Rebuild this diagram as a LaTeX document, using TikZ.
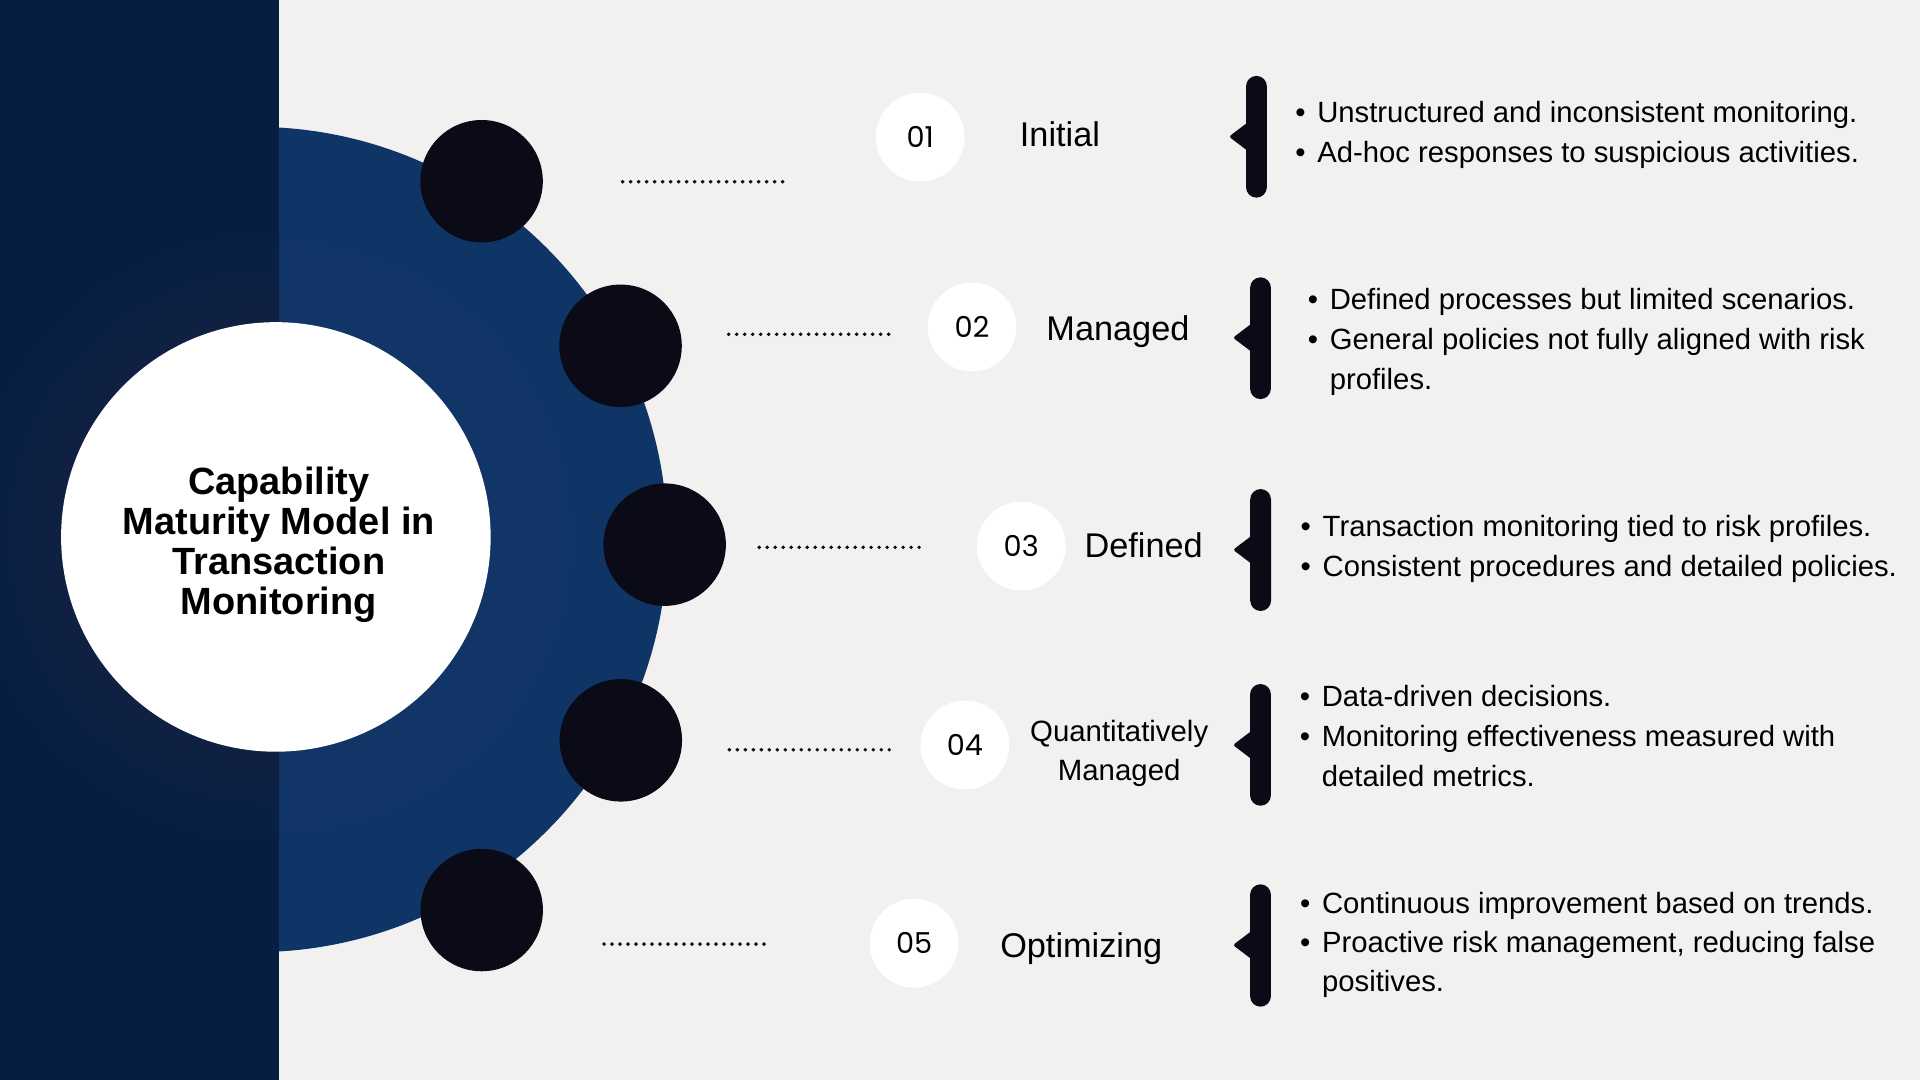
\documentclass[tikz,border=0pt]{standalone}
\usepackage{fontspec}
\setmainfont{Liberation Sans}
\newfontfamily\numfont{Poppins}
\definecolor{bgc}{HTML}{F2F1EF}
\definecolor{stripc}{HTML}{061E42}
\definecolor{bluec}{HTML}{0E3566}
\definecolor{darkc}{HTML}{0A0B17}
\definecolor{stripglow}{HTML}{3A4A66}
\definecolor{blueglow}{HTML}{3A5A8A}
\newcommand\mybracket[4]{%
  \fill[darkc, rounded corners=8.5pt] (#1-8.5,#2) rectangle (#1+8.5,#3);
  \fill[darkc, rounded corners=2pt] (#1-6,#4-12.5) -- (#1-22.5,#4) -- (#1-6,#4+12.5) -- cycle;}
\begin{document}
\begin{tikzpicture}[x=1pt,y=-1pt,
  darkdot/.style={circle, fill=darkc, minimum size=100pt, inner sep=0pt},
  numcirc/.style={circle, fill=white, minimum size=72.5pt, inner sep=0pt, text=black,
    font=\numfont\fontsize{23.5}{23.5}\selectfont},
  stage/.style={anchor=base, inner sep=0pt, text=black, font=\fontsize{28}{28}\selectfont},
  stagesm/.style={anchor=base, inner sep=0pt, text=black, font=\fontsize{24}{24}\selectfont},
  item/.style={anchor=base west, inner sep=0pt, text=black, font=\fontsize{23.9}{23.9}\selectfont},
  dotline/.style={darkc, line width=3.2pt, line cap=round, dash pattern=on 0pt off 6.53pt},
  titlenode/.style={align=center, inner sep=0pt, text=black, font=\bfseries\fontsize{31}{32.7}\selectfont}]
\newcommand\bul{\makebox[18pt][l]{\textbullet}}
\useasboundingbox (0,0) rectangle (1568,882);
\fill[bgc] (0,0) rectangle (1568,882);
% big blue disc with a soft glow round the centre
\fill[bluec] (208,440.6) circle (337);
\begin{scope}
  \clip (208,440.6) circle (337);
  \foreach \r in {184,192,...,248} \fill[blueglow, opacity=0.025] (225.3,438.5) circle (\r);
\end{scope}
% left strip with the same glow
\fill[stripc] (0,0) rectangle (227.5,882);
\begin{scope}
  \clip (0,0) rectangle (227.5,882);
  \foreach \r in {184,192,...,248} \fill[stripglow, opacity=0.025] (225.3,438.5) circle (\r);
\end{scope}
% central white disc
\fill[white] (225.3,438.5) circle (175.4);
\node[titlenode] (title) at (227.7,445.2) {Capability\\Maturity Model in\\Transaction\\Monitoring};
% dark dots on the rim
\node[darkdot] (d1) at (393.3,148) {};
\node[darkdot] (d2) at (506.8,282.4) {};
\node[darkdot] (d3) at (542.8,444.8) {};
\node[darkdot] (d4) at (507,604.6) {};
\node[darkdot] (d5) at (393.4,743.2) {};
% dotted leaders
\coordinate (p1a) at (508.5,148.4); \coordinate (p1b) at (639.2,148.4);
\coordinate (p2a) at (595.1,273.0); \coordinate (p2b) at (725.8,273.0);
\coordinate (p3a) at (620.0,447.0); \coordinate (p3b) at (750.7,447.0);
\coordinate (p4a) at (595.6,612.3); \coordinate (p4b) at (726.3,612.3);
\coordinate (p5a) at (493.3,771.0); \coordinate (p5b) at (624.0,771.0);
\draw[dotline] (p1a) -- (p1b);
\draw[dotline] (p2a) -- (p2b);
\draw[dotline] (p3a) -- (p3b);
\draw[dotline] (p4a) -- (p4b);
\draw[dotline] (p5a) -- (p5b);
% number discs
\node[numcirc] (n1) at (751.5,112) {01};
\node[numcirc] (n2) at (793.8,267) {02};
\node[numcirc] (n3) at (834,446) {03};
\node[numcirc] (n4) at (788,608.5) {04};
\node[numcirc] (n5) at (746.5,770.3) {05};
% stage names
\node[stage] (l1) at (865.6,119.8) {Initial};
\node[stage] (l2) at (913,278.2) {Managed};
\node[stage] (l3) at (934,455.5) {Defined};
\node[stagesm] (l4a) at (914,605.2) {Quantitatively};
\node[stagesm] (l4b) at (914,637.5) {Managed};
\node[stage] (l5) at (883,782) {Optimizing};
% brackets
\mybracket{1026.1}{62}{161.4}{111.6}
\mybracket{1029.4}{226.5}{325.9}{275.8}
\mybracket{1029.5}{399.4}{499}{449}
\mybracket{1029.4}{558.6}{658}{608.4}
\mybracket{1029.4}{722.2}{822.1}{771.8}
% descriptions
\node[item] (i1a) at (1057.6,100.2) {\bul Unstructured and inconsistent monitoring.};
\node[item] (i1b) at (1057.6,132.6) {\bul Ad-hoc responses to suspicious activities.};
\node[item] (i2a) at (1067.8,253.0) {\bul Defined processes but limited scenarios.};
\node[item] (i2b) at (1067.8,285.8) {\bul General policies not fully aligned with risk};
\node[item] (i2c) at (1085.8,318.5) {profiles.};
\node[item] (i3a) at (1062.0,438.3) {\bul Transaction monitoring tied to risk profiles.};
\node[item] (i3b) at (1062.0,470.6) {\bul Consistent procedures and detailed policies.};
\node[item] (i4a) at (1061.3,577.0) {\bul Data-driven decisions.};
\node[item] (i4b) at (1061.3,609.8) {\bul Monitoring effectiveness measured with};
\node[item] (i4c) at (1079.3,642.5) {detailed metrics.};
\node[item] (i5a) at (1061.5,745.9) {\bul Continuous improvement based on trends.};
\node[item] (i5b) at (1061.5,777.9) {\bul Proactive risk management, reducing false};
\node[item] (i5c) at (1079.5,809.9) {positives.};
\end{tikzpicture}
\end{document}
